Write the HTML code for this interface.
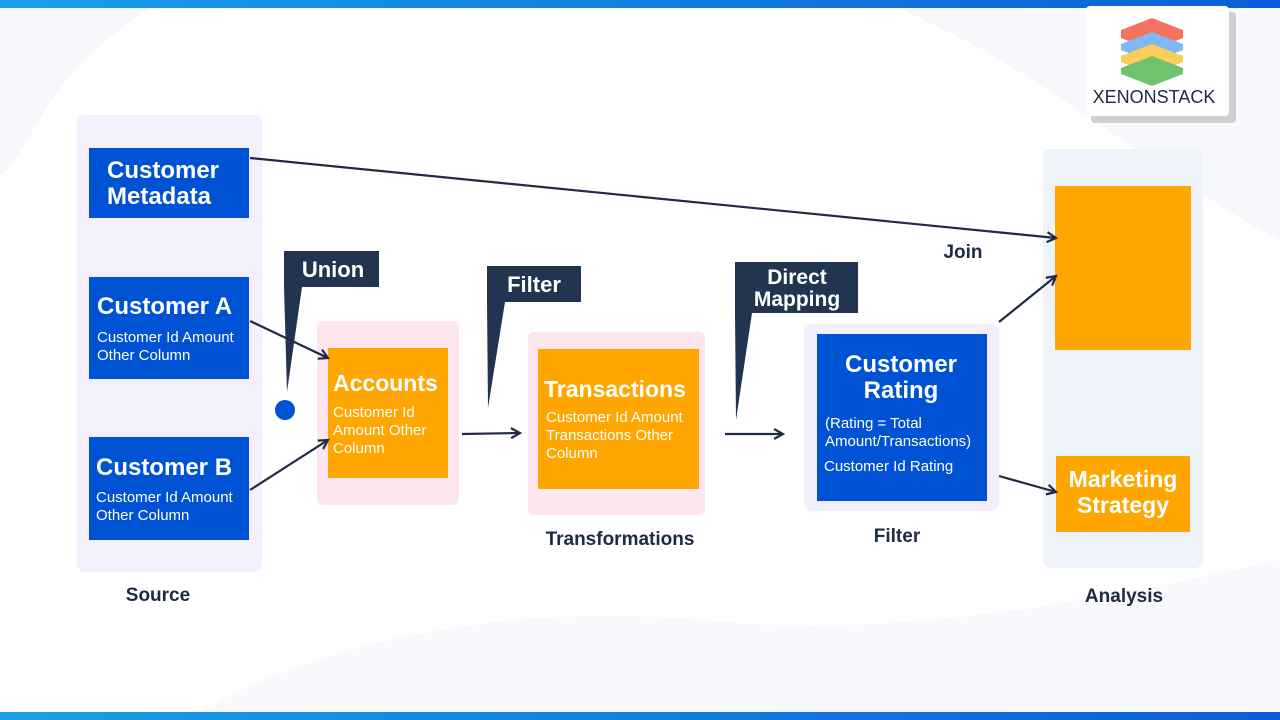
<!DOCTYPE html>
<html><head><meta charset="utf-8"><style>
body{margin:0;width:1280px;height:720px;overflow:hidden;background:#fff;font-family:"Liberation Sans",sans-serif}
svg{display:block}
text{font-family:"Liberation Sans",sans-serif}
</style></head><body>
<svg width="1280" height="720" viewBox="0 0 1280 720">
<defs>
<linearGradient id="bar" x1="0" x2="1"><stop offset="0" stop-color="#1aa0e8"/><stop offset="1" stop-color="#0a5fd8"/></linearGradient>
<marker id="ah" markerWidth="12" markerHeight="12" refX="10" refY="6" orient="auto" markerUnits="userSpaceOnUse"><path d="M1,1 L10,6 L1,11" fill="none" stroke="#1f2a44" stroke-width="2.2"/></marker>
</defs>
<rect width="1280" height="720" fill="#fff"/>
<path d="M0,8 H150 C100,40 60,80 40,120 C20,150 10,170 0,175Z" fill="#f6f8fc"/>
<path d="M900,8 H1280 V240 C1200,200 1100,120 1000,60 C950,30 920,20 900,8Z" fill="#f6f8fc"/>
<path d="M200,712 C300,650 500,600 700,620 C900,640 1100,600 1280,560 V712Z" fill="#f8f9fc"/>
<rect x="0" y="0" width="1280" height="8" fill="url(#bar)"/>
<rect x="0" y="712" width="1280" height="8" fill="url(#bar)"/>
<!-- logo -->
<rect x="1091" y="12" width="145" height="111" rx="4" fill="#cfcfcf"/>
<rect x="1086" y="6" width="143" height="110" rx="4" fill="#fff"/>
<g opacity="0.75">
<path d="M1152,18 L1183,30 L1183,38 L1152,50 L1121,38 L1121,30Z" fill="#f0442c"/>
<path d="M1152,32 L1183,44 L1183,50 L1152,62 L1121,50 L1121,44Z" fill="#5aa0f0"/>
<path d="M1152,44 L1183,56 L1183,62 L1152,74 L1121,62 L1121,56Z" fill="#f8c020"/>
<path d="M1152,56 L1183,68 L1183,74 L1152,86 L1121,74 L1121,68Z" fill="#40b040"/>
</g>
<text x="1154" y="103" text-anchor="middle" font-size="18" fill="#1f2a44">XENONSTACK</text>
<!-- panels -->
<rect x="77" y="115" width="185" height="457" rx="8" fill="#f3effd"/>
<rect x="317" y="321" width="142" height="184" rx="6" fill="#fde6ee"/>
<rect x="528" y="332" width="177" height="183" rx="6" fill="#fde6ee"/>
<rect x="804" y="324" width="195" height="187" rx="8" fill="#f3effd"/>
<rect x="1043" y="149" width="160" height="419" rx="8" fill="#eef2f9"/>
<!-- source boxes -->
<rect x="89" y="148" width="160" height="70" fill="#0052d4"/>
<text fill="#fff" font-weight="bold" font-size="24"><tspan x="107" y="178">Customer</tspan><tspan x="107" y="204">Metadata</tspan></text>
<rect x="89" y="277" width="160" height="102" fill="#0052d4"/>
<text x="97" y="314" fill="#fff" font-weight="bold" font-size="24">Customer A</text>
<text fill="#fff" font-size="15"><tspan x="97" y="342">Customer Id Amount</tspan><tspan x="97" y="360">Other Column</tspan></text>
<rect x="89" y="437" width="160" height="103" fill="#0052d4"/>
<text x="96" y="475" fill="#fff" font-weight="bold" font-size="24">Customer B</text>
<text fill="#fff" font-size="15"><tspan x="96" y="502">Customer Id Amount</tspan><tspan x="96" y="520">Other Column</tspan></text>
<text x="158" y="601" text-anchor="middle" font-weight="bold" font-size="19" fill="#1f2a44">Source</text>
<!-- accounts -->
<rect x="328" y="348" width="120" height="130" fill="#ffa600"/>
<text x="333" y="391" fill="#fff" font-weight="bold" font-size="23">Accounts</text>
<text fill="#fff" font-size="15"><tspan x="333" y="417">Customer Id</tspan><tspan x="333" y="435">Amount Other</tspan><tspan x="333" y="453">Column</tspan></text>
<!-- transactions -->
<rect x="538" y="349" width="161" height="140" fill="#ffa600"/>
<text x="544" y="397" fill="#fff" font-weight="bold" font-size="23">Transactions</text>
<text fill="#fff" font-size="15"><tspan x="546" y="422">Customer Id Amount</tspan><tspan x="546" y="440">Transactions Other</tspan><tspan x="546" y="458">Column</tspan></text>
<text x="620" y="545" text-anchor="middle" font-weight="bold" font-size="19" fill="#1f2a44">Transformations</text>
<!-- rating -->
<rect x="817" y="334" width="170" height="167" fill="#0052d4"/>
<text fill="#fff" font-weight="bold" font-size="24" text-anchor="middle"><tspan x="901" y="372">Customer</tspan><tspan x="901" y="398">Rating</tspan></text>
<text fill="#fff" font-size="15"><tspan x="825" y="428">(Rating = Total</tspan><tspan x="825" y="446">Amount/Transactions)</tspan><tspan x="824" y="471">Customer Id Rating</tspan></text>
<text x="897" y="542" text-anchor="middle" font-weight="bold" font-size="19" fill="#1f2a44">Filter</text>
<!-- analysis -->
<rect x="1055" y="186" width="136" height="164" fill="#ffa600"/>
<rect x="1056" y="456" width="134" height="76" fill="#ffa600"/>
<text fill="#fff" font-weight="bold" font-size="23" text-anchor="middle"><tspan x="1123" y="487">Marketing</tspan><tspan x="1123" y="513">Strategy</tspan></text>
<text x="1124" y="602" text-anchor="middle" font-weight="bold" font-size="19" fill="#1f2a44">Analysis</text>
<text x="963" y="258" text-anchor="middle" font-weight="bold" font-size="19" fill="#1f2a44">Join</text>
<!-- callouts -->
<path d="M284,251 H379 V287 H302 L287,392 L284,287Z" fill="#22344f"/>
<text x="333" y="277" text-anchor="middle" fill="#fff" font-weight="bold" font-size="22">Union</text>
<path d="M487,266 H581 V302 H505 L488,408 L487,302Z" fill="#22344f"/>
<text x="534" y="292" text-anchor="middle" fill="#fff" font-weight="bold" font-size="22">Filter</text>
<path d="M735,262 H858 V313 H752 L736,420 L735,313Z" fill="#22344f"/>
<text fill="#fff" font-weight="bold" font-size="21" text-anchor="middle"><tspan x="797" y="284">Direct</tspan><tspan x="797" y="306">Mapping</tspan></text>
<circle cx="285" cy="410" r="10" fill="#0052d4"/>
<!-- arrows -->
<g stroke="#1f2a44" stroke-width="2.2" fill="none" marker-end="url(#ah)">
<line x1="250" y1="158" x2="1056" y2="238"/>
<line x1="250" y1="321" x2="328" y2="358"/>
<line x1="250" y1="490" x2="328" y2="440"/>
<line x1="462" y1="434" x2="520" y2="433"/>
<line x1="725" y1="434" x2="783" y2="434"/>
<line x1="999" y1="322" x2="1056" y2="276"/>
<line x1="999" y1="476" x2="1056" y2="492"/>
</g>
</svg>
</body></html>
